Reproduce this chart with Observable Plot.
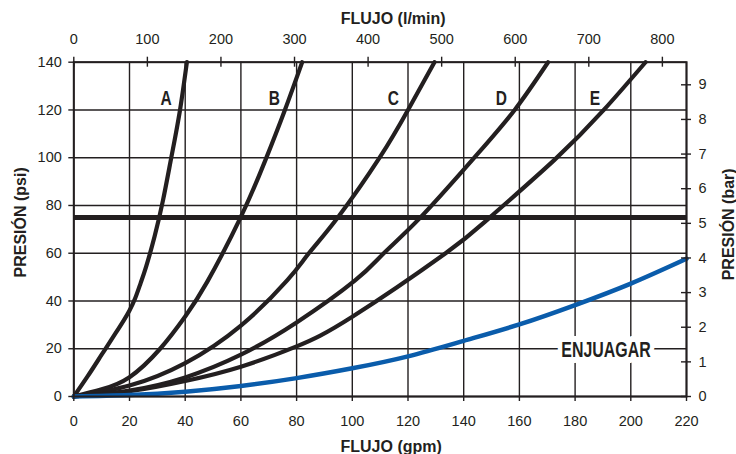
<!DOCTYPE html>
<html>
<head>
<meta charset="utf-8">
<script src="https://cdn.jsdelivr.net/npm/d3@7"></script>
<script src="https://cdn.jsdelivr.net/npm/@observablehq/plot@0.6"></script>
<style>
  html, body { margin: 0; padding: 0; background: #fff; }
  #chart svg { display: block; }
</style>
</head>
<body>
<div id="chart"></div>
<script>
// ---- data ----
const gpmTicks = [0, 20, 40, 60, 80, 100, 120, 140, 160, 180, 200, 220];
const psiTicks = [0, 20, 40, 60, 80, 100, 120, 140];
const lpmTicks = [0, 100, 200, 300, 400, 500, 600, 700, 800];
const barTicks = [0, 1, 2, 3, 4, 5, 6, 7, 8, 9];
const LPM_PER_GPM = 3.78541;
const PSI_PER_BAR = 14.5038;

const curveNames = ["A", "B", "C", "D", "E"];
const curveA = [[0,0],[5,8.5],[10,17.5],[15,26.5],[18,32],[20,36],[22,41],[24,47.5],[26,54.5],[29,67],[32,82],[35,100],[38,119],[40.6,140]];
const curveB = [[0,0],[10,3],[20,8.1],[31,20],[40,33.5],[47.9,48],[59.9,75],[68.8,99],[75.8,120],[82,140]];
const curveC = [[0,0],[20,4.6],[40,14],[60,29.7],[76.6,48.6],[84.4,60],[94.8,75],[109.8,100],[120,120],[129.5,140]];
const curveD = [[0,0],[20,2.5],[40,8],[60,17.5],[80,31],[101,48.6],[111.3,60],[124.5,75],[143.8,100],[158.3,120],[170.3,140]];
const curveE = [[0,0],[20,2.2],[40,6.5],[60,12.5],[80,21],[100,33.4],[133.5,60],[149.4,75],[172.5,99],[190.3,120],[205.3,140]];
const rinseCurve = [[0,0],[20,0.6],[40,2],[60,4.4],[80,7.7],[100,11.8],[120,16.8],[140,23.3],[160,30.2],[180,38.3],[200,47.3],[220,57.7]];

const curveLabelGpm = [33.1, 72, 114.7, 153.5, 187.1];
const curveLabelPsi = 124.7;
const rinseLabel = "ENJUAGAR";
const rinseLabelGpm = 191.1;
const rinseLabelPsi = 19.5;
const refPsi = 75;

const titleTop = "FLUJO (l/min)";
const titleBottom = "FLUJO (gpm)";
const titleLeft = "PRESIÓN (psi)";
const titleRight = "PRESIÓN (bar)";

// ---- build ----
const ink = "#231f20";
const blue = "#0a5cab";
const boldFont = "'Liberation Sans', Arial, sans-serif";

const blackCurves = [curveA, curveB, curveC, curveD, curveE].flatMap((c, k) =>
  c.map(([q, p]) => ({name: curveNames[k], q, p})));
const rinseRows = rinseCurve.map(([q, p]) => ({q, p}));
const curveLabels = curveNames.map((n, k) => ({n, q: curveLabelGpm[k], p: curveLabelPsi}));

const chart = Plot.plot({
  width: 736,
  height: 454,
  marginTop: 61.7,
  marginLeft: 73.3,
  marginRight: 50,
  marginBottom: 58,
  style: {fontFamily: "'Liberation Sans', Arial, sans-serif", fontSize: "14.5px", color: ink, background: "#fff"},
  x: {domain: [0, 220]},
  y: {domain: [0, 140]},
  marks: [
    Plot.ruleX(gpmTicks, {stroke: ink, strokeWidth: 1.4}),
    Plot.ruleY(psiTicks, {stroke: ink, strokeWidth: 1.4}),
    Plot.ruleY([refPsi], {stroke: ink, strokeWidth: 5}),
    Plot.line(blackCurves, {x: "q", y: "p", z: "name", stroke: ink, strokeWidth: 4.2, curve: "natural"}),
    Plot.line(rinseRows, {x: "q", y: "p", stroke: blue, strokeWidth: 4.5, curve: "natural"}),
    Plot.text(curveLabels, {x: "q", y: "p", text: "n", fontFamily: boldFont, fontWeight: "bold", fontSize: 21, fill: ink, className: "cond-label"}),
    Plot.text([rinseLabel], {x: () => rinseLabelGpm, y: () => rinseLabelPsi, text: d => d, fontFamily: boldFont, fontWeight: "bold", fontSize: 21.5, fill: ink, stroke: "white", strokeWidth: 12, className: "cond-label"}),
    Plot.frame({stroke: ink, strokeWidth: 2}),
    // bottom axis (gpm)
    Plot.axisX(gpmTicks, {anchor: "bottom", tickSize: 5, tickPadding: 14, label: null, stroke: ink, strokeWidth: 1.4}),
    // left axis (psi)
    Plot.axisY(psiTicks, {anchor: "left", tickSize: 5, tickPadding: 7, label: null, stroke: ink, strokeWidth: 1.4}),
    // top axis (l/min)
    Plot.ruleX(lpmTicks, {x: d => d / LPM_PER_GPM, y1: 140, y2: 140, insetTop: -5, insetBottom: -5, stroke: ink, strokeWidth: 1.4}),
    Plot.axisX(lpmTicks.map(d => d / LPM_PER_GPM), {anchor: "top", tickSize: 0, tickPadding: 18.4, label: null, tickFormat: d => Math.round(d * LPM_PER_GPM)}),
    // right axis (bar)
    Plot.ruleY(barTicks, {y: d => d * PSI_PER_BAR, x1: 220, x2: 220, insetLeft: -5, insetRight: -5, stroke: ink, strokeWidth: 1.4}),
    Plot.axisY(barTicks.map(d => d * PSI_PER_BAR), {anchor: "right", tickSize: 0, tickPadding: 12, label: null, tickFormat: d => Math.round(d / PSI_PER_BAR)}),
    // titles
    Plot.text([titleTop], {frameAnchor: "top", textAnchor: "middle", dx: 13, dy: -38.5, lineAnchor: "bottom", text: d => d, fontWeight: "bold", fontSize: 16, fill: ink}),
    Plot.text([titleBottom], {frameAnchor: "bottom", textAnchor: "middle", dx: 11, dy: 55.5, lineAnchor: "bottom", text: d => d, fontWeight: "bold", fontSize: 16, fill: ink}),
    Plot.text([titleLeft], {frameAnchor: "left", textAnchor: "middle", dx: -47.5, dy: -7, rotate: -90, lineAnchor: "bottom", text: d => d, fontWeight: "bold", fontSize: 16, fill: ink}),
    Plot.text([titleRight], {frameAnchor: "right", textAnchor: "middle", dx: 47, dy: -5, rotate: -90, lineAnchor: "bottom", text: d => d, fontWeight: "bold", fontSize: 16, fill: ink})
  ]
});
document.getElementById("chart").appendChild(chart);

// condensed look for the bold curve labels (no condensed font installed)
d3.selectAll(".cond-label text").each(function () {
  const w = this.getComputedTextLength();
  this.setAttribute("textLength", (w * 0.74).toFixed(1));
  this.setAttribute("lengthAdjust", "spacingAndGlyphs");
});
</script>
</body>
</html>
